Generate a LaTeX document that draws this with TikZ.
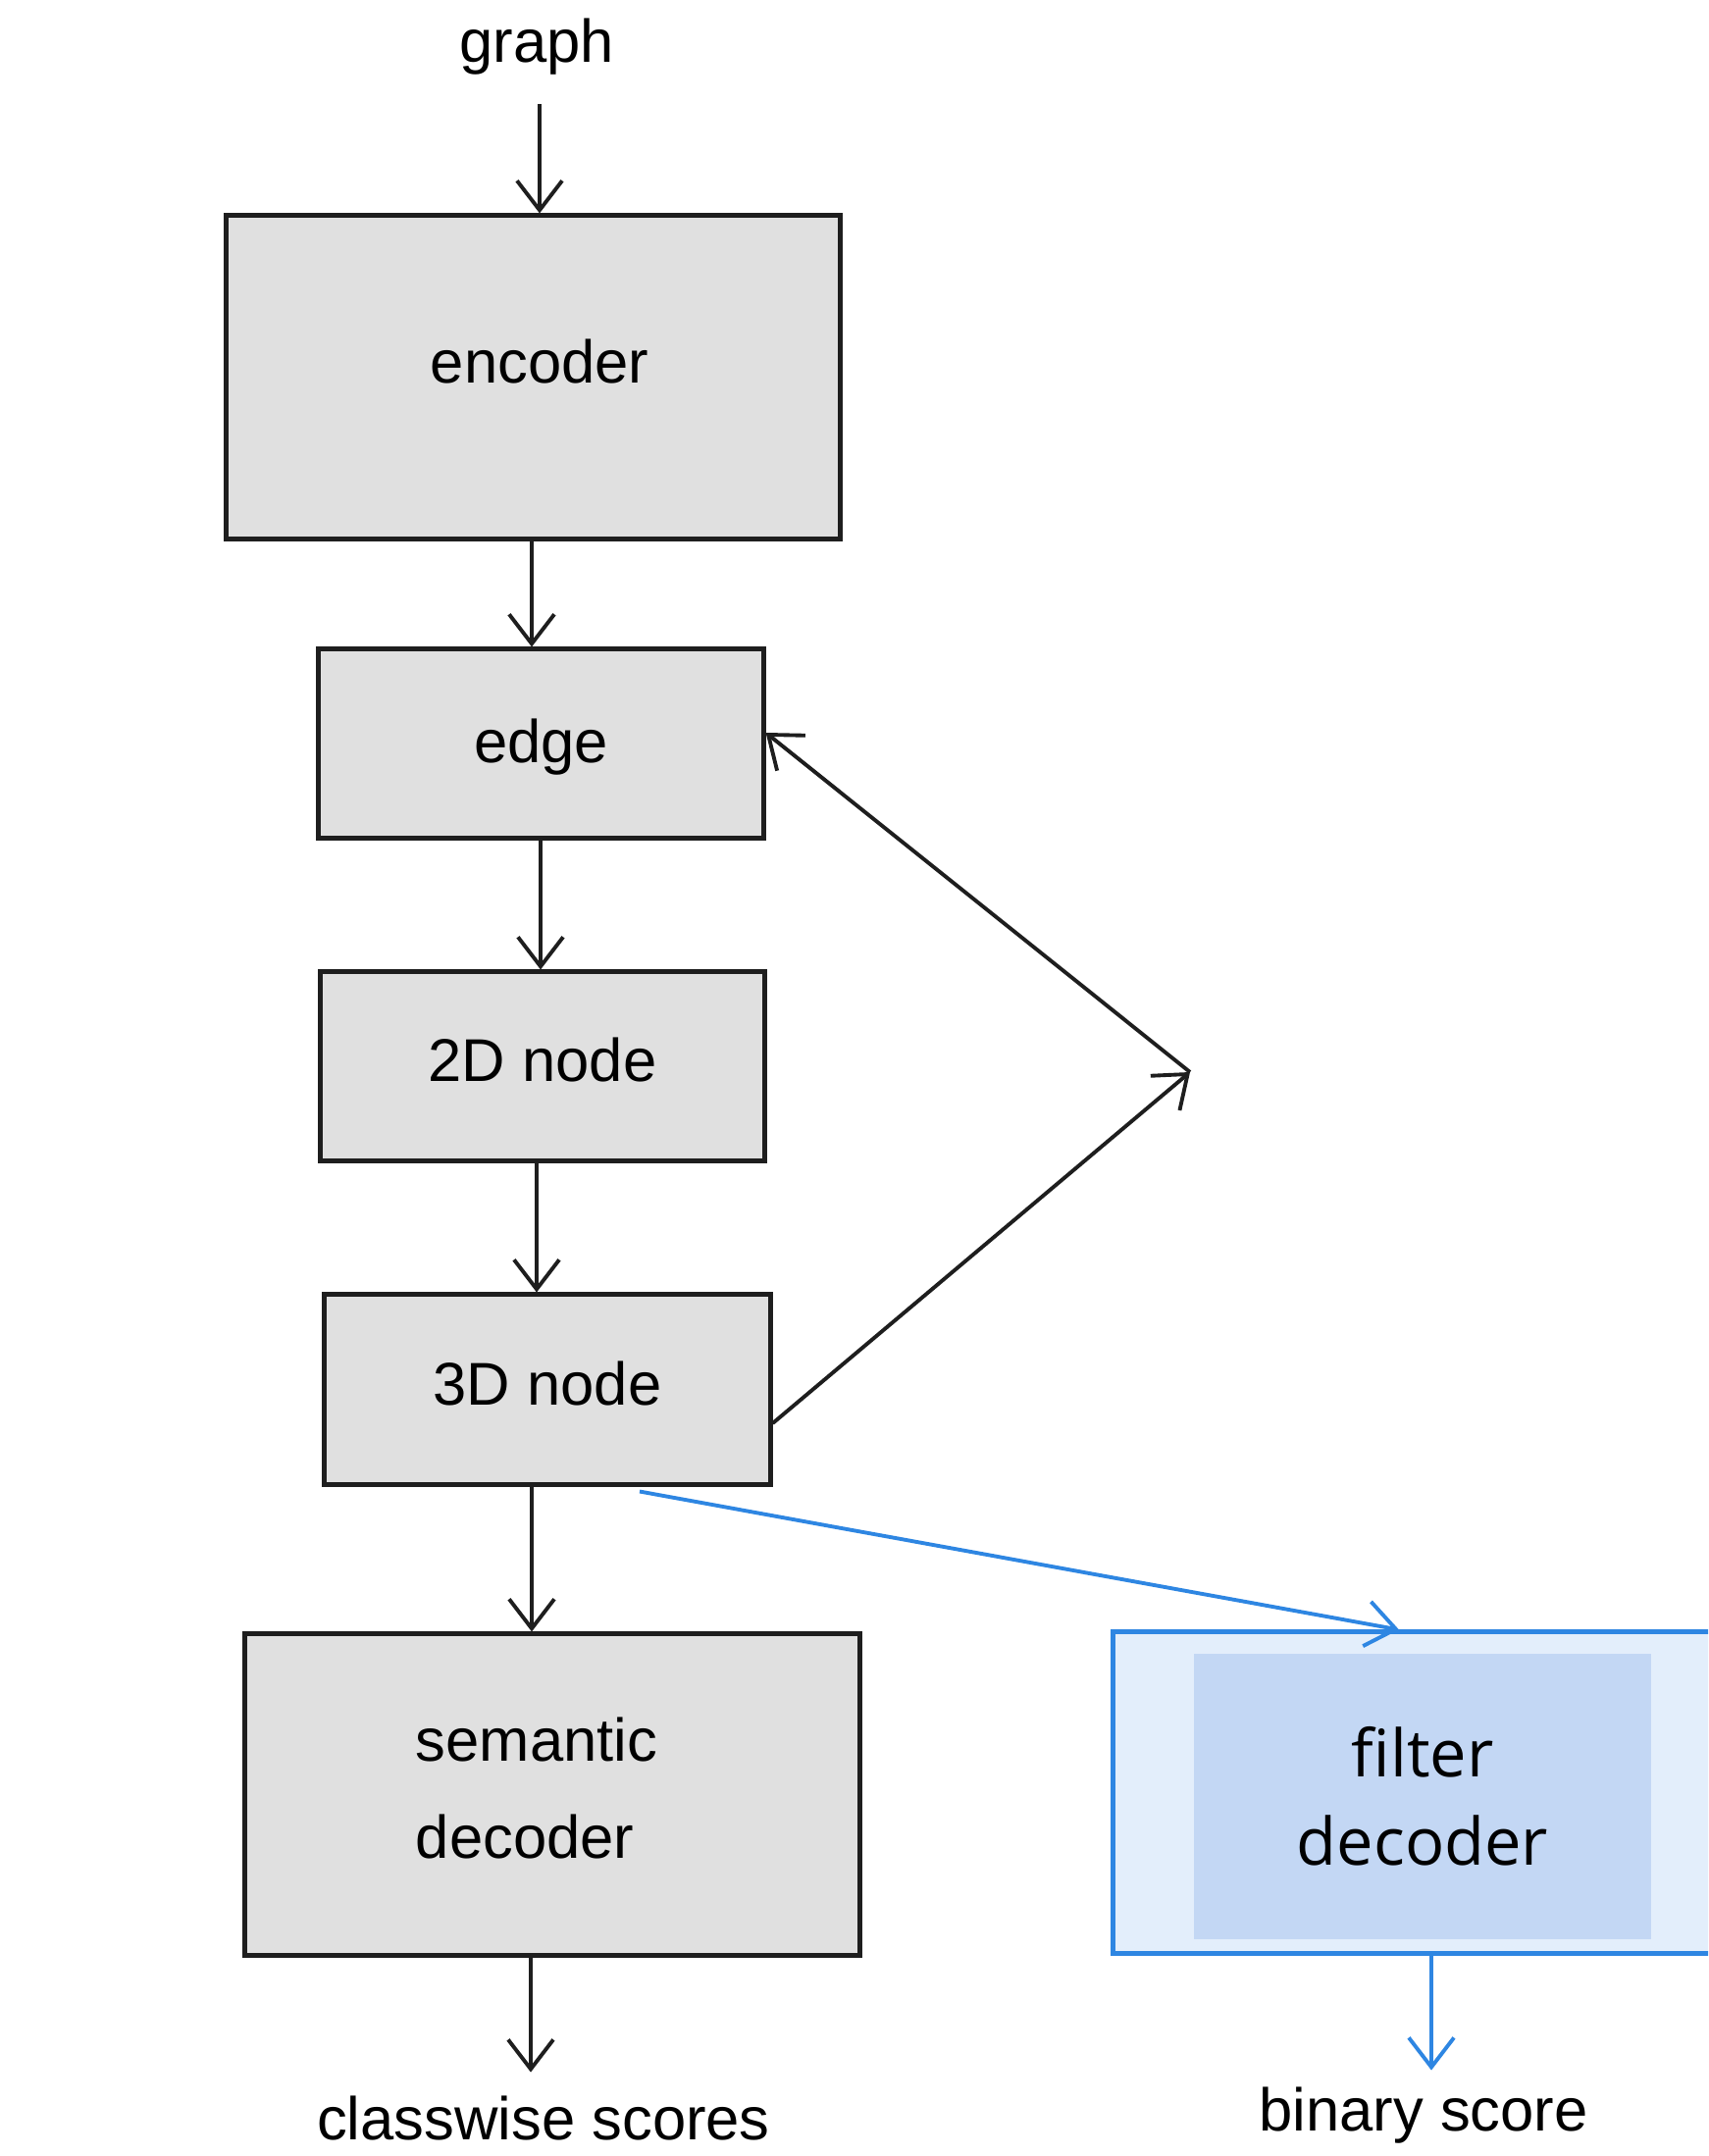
\documentclass[tikz,border=0pt]{standalone}
\usepackage{fontspec}
\setmainfont{Liberation Sans}
\newfontfamily\labelfont{Open Sans}
\usetikzlibrary{arrows.meta}
\definecolor{boxgray}{HTML}{E0E0E0}
\definecolor{edgeink}{HTML}{1E1E1E}
\definecolor{flowblue}{HTML}{2E86E2}
\definecolor{paleblue}{HTML}{E3EEFB}
\definecolor{midblue}{HTML}{C3D7F4}
\tikzset{
  stagebox/.style={draw=edgeink, fill=boxgray, line width=1.4pt, inner sep=0pt,
    font=\fontsize{17.5}{28}\selectfont, align=center,
    text height=0.95em, text depth=0.05em},
  plaintext/.style={inner sep=0pt, font=\fontsize{17.5}{28}\selectfont,
    text height=0.95em, text depth=0.05em},
  flow/.style={draw=edgeink, line width=1.1pt, line join=round,
    -{Straight Barb[length=3mm,width=4.6mm,line width=1.1pt]}},
  blueflow/.style={flow, draw=flowblue},
}
\begin{document}
\begin{tikzpicture}[x=0.01cm, y=-0.01cm]
\useasboundingbox (0,0) rectangle (1741,2198);
\fill[white] (0,0) rectangle (1741,2198);

% input label
\node[plaintext] (graph) at (547,48) {graph};

% main pipeline
\node[stagebox, minimum width=6.25cm, minimum height=3.29cm] (enc) at (543.5,384.5) {};
\node[plaintext] (enctext) at (550,375) {encoder};
\node[stagebox, minimum width=4.53cm, minimum height=1.92cm,
  text height=1.1em, text depth=0em] (edge) at (551.5,758) {edge};
\node[stagebox, minimum width=4.52cm, minimum height=1.92cm] (node2d) at (553,1087) {2D node};
\node[stagebox, minimum width=4.54cm, minimum height=1.93cm] (node3d) at (558,1416.5) {3D node};
\node[stagebox, minimum width=6.26cm, minimum height=3.27cm] (sem) at (563,1829.5) {};
\node[inner sep=0pt, align=left, font=\fontsize{17.5}{28}\selectfont] (semtext)
  at (547,1823) {semantic\\decoder};
\node[plaintext] (cls) at (554,2166) {classwise scores};

% filter branch
\begin{scope}
\clip (0,0) rectangle (1741,2198);
\node[draw=flowblue, fill=paleblue, line width=1.4pt, inner sep=0pt,
  minimum width=6.4cm, minimum height=3.27cm] (filt) at (1455,1827.5) {};
\end{scope}
\node[fill=midblue, inner sep=0pt, minimum width=4.66cm, minimum height=2.91cm,
  align=center, font=\labelfont\fontsize{19}{25.6}\selectfont] (filtin) at (1450,1831.5)
  {filter\\decoder};
\node[plaintext] (bin) at (1451,2157) {binary score};

% turning point of the feedback loop
\coordinate (apex) at (1213,1093);

% connectors
\draw[flow] (graph.south -| 550,0) ++(0,40) -- (enc.north -| 550,0);
\draw[flow] (enc.south -| 542,0) -- (edge.north -| 542,0);
\draw[flow] (edge.south -| 551,0) -- (node2d.north -| 551,0);
\draw[flow] (node2d.south -| 547,0) -- (node3d.north -| 547,0);
\draw[flow] (node3d.south -| 542,0) -- (sem.north -| 542,0);
\draw[flow] (sem.south -| 541,0) -- ++(0,117);
\draw[flow] (node3d.east |- 0,1451) -- (apex);
\draw[flow] (apex) -- (edge.east |- 0,747);
\draw[blueflow] (node3d.south -| 652,0) ++(0,5) -- (filt.north -| 1426,0);
\draw[blueflow] (filt.south -| 1459,0) -- ++(0,117);
\end{tikzpicture}
\end{document}
